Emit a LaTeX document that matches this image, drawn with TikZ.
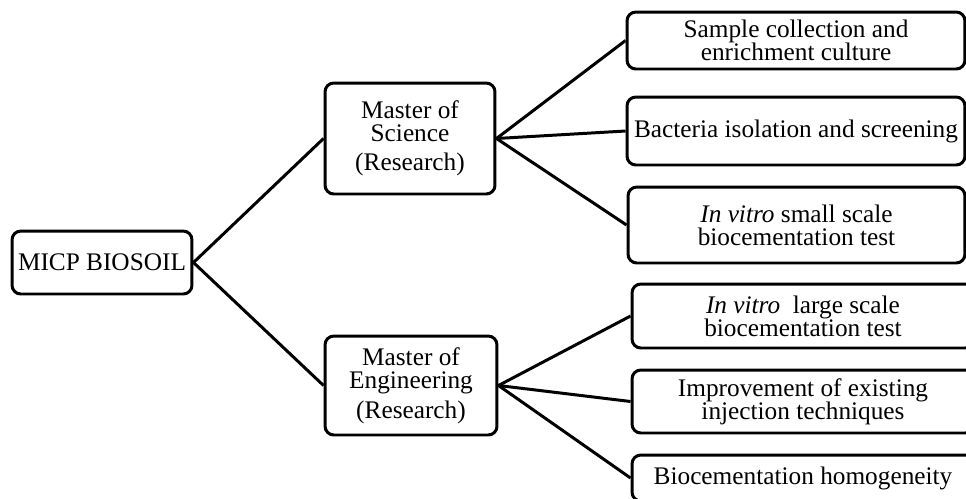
\documentclass[tikz,border=0pt]{standalone}
\usepackage{fontspec}
\setmainfont{Liberation Serif}
\usetikzlibrary{positioning}

\begin{document}
\begin{tikzpicture}[x=0.02cm, y=-0.02cm,
    box/.style={draw, line width=1.7pt, rounded corners=5pt, align=center, inner sep=2pt,
                font=\fontsize{14.4}{13.2}\selectfont},
    link/.style={line width=1.7pt}]
    % Frame
    \useasboundingbox (0,0) rectangle (966,498);
    \clip (0,0) rectangle (966,498);

    % Root
    \node[box, minimum width=3.6cm, minimum height=1.26cm] (micp) at (102,262.5) {MICP BIOSOIL};

    % Degrees
    \node[box, minimum width=3.4cm, minimum height=2.22cm] (msc) at (410,138.5)
        {Master of\\ Science\\[3.5pt] (Research)};
    \node[box, minimum width=3.44cm, minimum height=1.98cm] (meng) at (411,385.5)
        {Master of\\ Engineering\\[4pt] (Research)};

    % Master of Science tasks
    \node[box, minimum width=6.76cm, minimum height=1.14cm] (collect) at (796,40.5)
        {Sample collection and\\ enrichment culture};
    \node[box, minimum width=6.76cm, minimum height=1.36cm] (isolate) at (796,131)
        {Bacteria isolation and screening};
    \node[box, minimum width=6.74cm, minimum height=1.52cm] (smalltest) at (796.5,225)
        {\textit{In vitro} small scale\\ biocementation test};

    % Master of Engineering tasks
    \node[box, minimum width=6.84cm, minimum height=1.28cm] (largetest) at (803,316)
        {\textit{In vitro}\ \ large scale\\ biocementation test};
    \node[box, minimum width=6.84cm, minimum height=1.26cm] (inject) at (803,401.5)
        {Improvement of existing\\ injection techniques};
    \node[box, minimum width=6.84cm, minimum height=0.92cm] (homog) at (803,478)
        {Biocementation homogeneity};

    % Links
    \draw[link] (micp.east) -- (msc.west);
    \draw[link] (micp.east) -- (meng.west);
    \draw[link] (msc.east) -- (collect.west);
    \draw[link] (msc.east) -- (isolate.west);
    \draw[link] (msc.east) -- (smalltest.west);
    \draw[link] (meng.east) -- (largetest.west);
    \draw[link] (meng.east) -- (inject.west);
    \draw[link] (meng.east) -- (homog.west);
\end{tikzpicture}
\end{document}
